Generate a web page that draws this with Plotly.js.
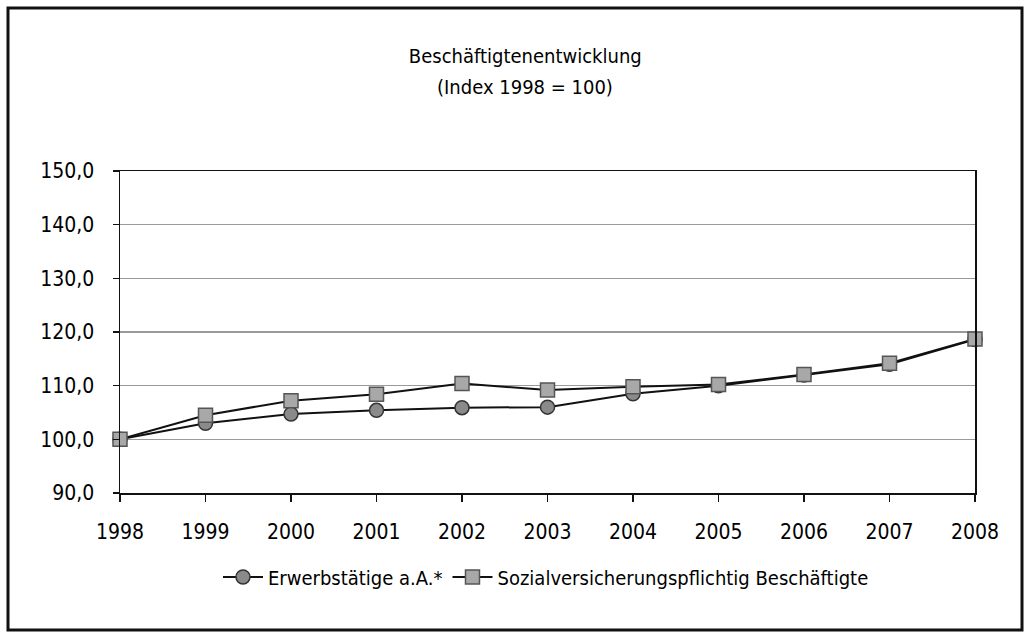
<!DOCTYPE html>
<html><head><meta charset="utf-8">
<script src="https://cdn.plot.ly/plotly-3.0.1.min.js"></script>
<style>html,body{margin:0;padding:0;background:#fff}#c{width:1026px;height:634px}</style>
</head><body><div id="c"></div>
<script>
const years = [1998,1999,2000,2001,2002,2003,2004,2005,2006,2007,2008];
const erwerbstaetige = [100.0,103.0,104.7,105.4,105.9,106.0,108.5,110.0,112.0,114.0,118.6];
const svBeschaeftigte = [100.0,104.5,107.2,108.4,110.4,109.2,109.8,110.2,112.1,114.2,118.7];
const seriesNames = ['Erwerbstätige a.A.*','Sozialversicherungspflichtig Beschäftigte'];
const titleLine1 = 'Beschäftigtenentwicklung';
const titleLine2 = '(Index 1998 = 100)';

const F = '"DejaVu Sans Condensed","Liberation Sans Narrow","Roboto Condensed",sans-serif';
const traces = [
 {x:years,y:erwerbstaetige,name:seriesNames[0],type:'scatter',mode:'lines+markers',cliponaxis:false,
  line:{color:'#111',width:2},marker:{symbol:'circle',size:14,color:'#8a8a8a',line:{color:'#333',width:1.5}}},
 {x:years,y:svBeschaeftigte,name:seriesNames[1],type:'scatter',mode:'lines+markers',cliponaxis:false,
  line:{color:'#111',width:2},marker:{symbol:'square',size:14,color:'#a8a8a8',line:{color:'#555',width:1.5}}}
];
const layout = {
 width:1026,height:634,
 margin:{l:120,r:51,t:171,b:141},
 paper_bgcolor:'#fff',plot_bgcolor:'#fff',
 separators:',.',
 font:{family:F,color:'#000',size:20},
 title:{text:titleLine1,font:{family:F,size:20,color:'#000'},xref:'container',x:0.512,xanchor:'center',yref:'container',y:1-56/634,yanchor:'middle'},
 annotations:[{text:titleLine2,xref:'paper',yref:'paper',x:(525-120)/855,y:(493-87)/322,xanchor:'center',yanchor:'middle',showarrow:false,font:{family:F,size:20,color:'#000'}}],
 xaxis:{type:'linear',range:[1998,2008],tickvals:years,ticktext:years.map(String),showgrid:false,zeroline:false,
  showline:true,linecolor:'#111',linewidth:1.5,mirror:true,ticks:'outside',ticklen:7,tickcolor:'#111',tickwidth:1.5,
  ticklabelstandoff:12,tickfont:{family:F,size:21,color:'#000'}},
 yaxis:{range:[90,150],dtick:10,tick0:90,tickformat:'.1f',showgrid:true,gridcolor:'#9a9a9a',gridwidth:1.5,zeroline:false,
  showline:true,linecolor:'#111',linewidth:1.5,mirror:true,ticks:'outside',ticklen:6,tickcolor:'#111',tickwidth:1.5,
  ticklabelstandoff:14,tickfont:{family:F,size:21,color:'#000'}},
 showlegend:true,
 legend:{orientation:'h',x:(546-120)/855,xanchor:'center',y:(493-577)/322,yanchor:'middle',font:{family:F,size:20,color:'#000'},
  itemwidth:40,bgcolor:'rgba(0,0,0,0)'},
 shapes:[{type:'rect',xref:'paper',yref:'paper',x0:(8-120)/855,x1:(1022-120)/855,y0:(493-630)/322,y1:(493-8)/322,line:{color:'#111',width:3}}]
};
Plotly.newPlot('c',traces,layout,{displayModeBar:false,staticPlot:true});
</script></body></html>
